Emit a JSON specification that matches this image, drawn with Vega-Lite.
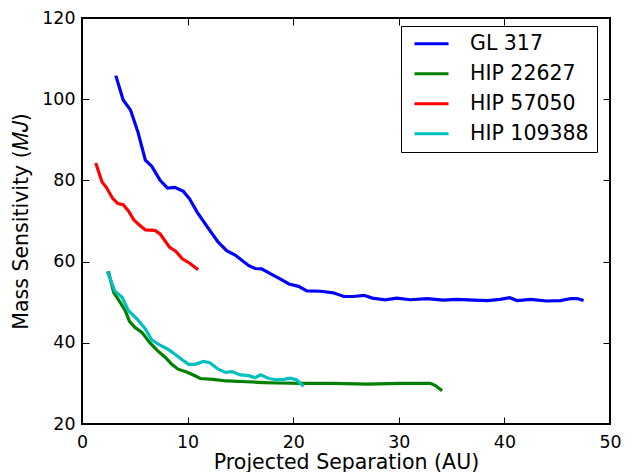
{
  "$schema": "https://vega.github.io/schema/vega-lite/v6.json",
  "width": 528,
  "height": 406,
  "autosize": {"type": "none"},
  "padding": {"left": 82, "top": 18, "right": 24, "bottom": 48},
  "background": "white",
  "config": {
    "font": "DejaVu Sans",
    "view": {"stroke": "black", "strokeWidth": 2},
    "axis": {"grid": false, "domain": false, "tickColor": "black", "tickWidth": 1, "tickSize": -7, "labelFlush": false, "labelOverlap": false,
             "labelFont": "DejaVu Sans", "labelFontSize": 17.4, "labelColor": "black",
             "titleFont": "DejaVu Sans", "titleFontSize": 20.5, "titleFontWeight": "normal", "titleColor": "black"}
  },
  "data": {"values": [
    {"star":"GL 317","x":3.2,"y":105.8},{"star":"GL 317","x":3.9,"y":99.8},{"star":"GL 317","x":4.6,"y":97.3},{"star":"GL 317","x":5.3,"y":91.9},{"star":"GL 317","x":6.0,"y":85},{"star":"GL 317","x":6.6,"y":83.5},{"star":"GL 317","x":7.4,"y":80},{"star":"GL 317","x":8.1,"y":78.1},{"star":"GL 317","x":8.8,"y":78.3},{"star":"GL 317","x":9.6,"y":77.3},{"star":"GL 317","x":10.2,"y":75.4},{"star":"GL 317","x":10.9,"y":72.2},{"star":"GL 317","x":12.1,"y":67.7},{"star":"GL 317","x":12.9,"y":64.8},{"star":"GL 317","x":13.7,"y":62.7},{"star":"GL 317","x":14.5,"y":61.6},{"star":"GL 317","x":15.8,"y":59},{"star":"GL 317","x":16.4,"y":58.3},{"star":"GL 317","x":17.0,"y":58.2},{"star":"GL 317","x":18.0,"y":56.8},{"star":"GL 317","x":18.8,"y":55.7},{"star":"GL 317","x":19.6,"y":54.5},{"star":"GL 317","x":20.5,"y":53.9},{"star":"GL 317","x":21.3,"y":52.8},{"star":"GL 317","x":22.6,"y":52.7},{"star":"GL 317","x":23.8,"y":52.3},{"star":"GL 317","x":24.8,"y":51.4},{"star":"GL 317","x":25.7,"y":51.4},{"star":"GL 317","x":26.7,"y":51.7},{"star":"GL 317","x":27.5,"y":51.0},{"star":"GL 317","x":28.7,"y":50.6},{"star":"GL 317","x":29.8,"y":51.0},{"star":"GL 317","x":31.1,"y":50.6},{"star":"GL 317","x":32.7,"y":50.9},{"star":"GL 317","x":34.2,"y":50.5},{"star":"GL 317","x":35.5,"y":50.7},{"star":"GL 317","x":37.1,"y":50.5},{"star":"GL 317","x":38.4,"y":50.4},{"star":"GL 317","x":39.6,"y":50.7},{"star":"GL 317","x":40.5,"y":51.1},{"star":"GL 317","x":41.2,"y":50.4},{"star":"GL 317","x":42.5,"y":50.7},{"star":"GL 317","x":44.0,"y":50.3},{"star":"GL 317","x":45.3,"y":50.4},{"star":"GL 317","x":46.3,"y":50.9},{"star":"GL 317","x":46.9,"y":50.9},{"star":"GL 317","x":47.5,"y":50.4},
    {"star":"HIP 22627","x":2.5,"y":57.6},{"star":"HIP 22627","x":3.0,"y":52.4},{"star":"HIP 22627","x":3.6,"y":50},{"star":"HIP 22627","x":4.1,"y":47.9},{"star":"HIP 22627","x":4.5,"y":45.3},{"star":"HIP 22627","x":5.0,"y":43.8},{"star":"HIP 22627","x":5.7,"y":42.5},{"star":"HIP 22627","x":6.4,"y":40.1},{"star":"HIP 22627","x":7.1,"y":38.2},{"star":"HIP 22627","x":7.9,"y":36.4},{"star":"HIP 22627","x":8.5,"y":34.7},{"star":"HIP 22627","x":9.1,"y":33.5},{"star":"HIP 22627","x":9.9,"y":32.8},{"star":"HIP 22627","x":10.6,"y":32.0},{"star":"HIP 22627","x":11.2,"y":31.2},{"star":"HIP 22627","x":12.4,"y":31.0},{"star":"HIP 22627","x":13.7,"y":30.6},{"star":"HIP 22627","x":15.6,"y":30.4},{"star":"HIP 22627","x":17.2,"y":30.2},{"star":"HIP 22627","x":18.5,"y":30.1},{"star":"HIP 22627","x":21.0,"y":30.0},{"star":"HIP 22627","x":23.8,"y":30.0},{"star":"HIP 22627","x":27.0,"y":29.8},{"star":"HIP 22627","x":30.1,"y":30.0},{"star":"HIP 22627","x":33.0,"y":30.0},{"star":"HIP 22627","x":33.5,"y":29.4},{"star":"HIP 22627","x":34.1,"y":28.2},
    {"star":"HIP 57050","x":1.3,"y":84.3},{"star":"HIP 57050","x":1.9,"y":79.6},{"star":"HIP 57050","x":2.3,"y":78.3},{"star":"HIP 57050","x":2.9,"y":75.6},{"star":"HIP 57050","x":3.4,"y":74.3},{"star":"HIP 57050","x":3.9,"y":74.0},{"star":"HIP 57050","x":4.4,"y":72.5},{"star":"HIP 57050","x":4.9,"y":70.3},{"star":"HIP 57050","x":5.3,"y":69.3},{"star":"HIP 57050","x":6.0,"y":67.8},{"star":"HIP 57050","x":6.9,"y":67.7},{"star":"HIP 57050","x":7.4,"y":66.8},{"star":"HIP 57050","x":8.3,"y":63.5},{"star":"HIP 57050","x":8.9,"y":62.5},{"star":"HIP 57050","x":9.5,"y":60.7},{"star":"HIP 57050","x":10.2,"y":59.6},{"star":"HIP 57050","x":11.0,"y":58.0},
    {"star":"HIP 109388","x":2.4,"y":57.6},{"star":"HIP 109388","x":3.1,"y":52.8},{"star":"HIP 109388","x":3.8,"y":51.2},{"star":"HIP 109388","x":4.4,"y":47.9},{"star":"HIP 109388","x":5.2,"y":45.9},{"star":"HIP 109388","x":6.0,"y":43.4},{"star":"HIP 109388","x":6.6,"y":40.7},{"star":"HIP 109388","x":7.4,"y":39.4},{"star":"HIP 109388","x":8.2,"y":38.3},{"star":"HIP 109388","x":9.0,"y":36.8},{"star":"HIP 109388","x":9.6,"y":35.6},{"star":"HIP 109388","x":10.1,"y":34.7},{"star":"HIP 109388","x":10.7,"y":34.7},{"star":"HIP 109388","x":11.5,"y":35.4},{"star":"HIP 109388","x":12.1,"y":35.1},{"star":"HIP 109388","x":12.9,"y":33.5},{"star":"HIP 109388","x":13.6,"y":32.7},{"star":"HIP 109388","x":14.2,"y":32.9},{"star":"HIP 109388","x":15.0,"y":32.1},{"star":"HIP 109388","x":15.8,"y":31.9},{"star":"HIP 109388","x":16.4,"y":31.4},{"star":"HIP 109388","x":16.9,"y":32.1},{"star":"HIP 109388","x":17.7,"y":31.2},{"star":"HIP 109388","x":18.4,"y":30.9},{"star":"HIP 109388","x":19.1,"y":31.0},{"star":"HIP 109388","x":19.7,"y":31.3},{"star":"HIP 109388","x":20.3,"y":30.9},{"star":"HIP 109388","x":21.0,"y":29.3}
  ]},
  "layer": [
    {
      "mark": {"type": "line", "strokeWidth": 3.2, "clip": true},
      "encoding": {
        "x": {"field": "x", "type": "quantitative", "scale": {"domain": [0, 50], "nice": false, "zero": false},
              "axis": {"orient": "bottom", "values": [0,10,20,30,40,50], "labelPadding": 16, "title": "Projected Separation (AU)", "titlePadding": 2}},
        "y": {"field": "y", "type": "quantitative", "scale": {"domain": [20, 120], "nice": false, "zero": false},
              "axis": {"orient": "left", "values": [20,40,60,80,100,120], "labelPadding": 14, "title": "Mass Sensitivity (𝑀𝐽)", "titlePadding": 10}},
        "color": {"field": "star", "type": "nominal",
                  "scale": {"domain": ["GL 317","HIP 22627","HIP 57050","HIP 109388"], "range": ["#0000ff","#008000","#ff0000","#00bfbf"]},
                  "legend": {"title": null, "orient": "none", "legendX": 319, "legendY": 8,
                             "symbolType": "stroke", "symbolSize": 1156, "symbolStrokeWidth": 3.2,
                             "labelFont": "DejaVu Sans", "labelFontSize": 20.5, "labelColor": "black",
                             "padding": 7.5, "rowPadding": 9, "symbolOffset": 4, "labelOffset": 19.5, "clipHeight": 20.5,
                             "strokeColor": "black", "fillColor": "white"}}
      }
    },
    {
      "mark": {"type": "line", "strokeOpacity": 0},
      "encoding": {
        "x": {"field": "x", "type": "quantitative", "axis": {"orient": "top", "values": [0,10,20,30,40,50], "labels": false, "title": null}},
        "y": {"field": "y", "type": "quantitative", "axis": {"orient": "right", "values": [20,40,60,80,100,120], "labels": false, "title": null}},
        "detail": {"field": "star"}
      }
    }
  ],
  "resolve": {"axis": {"x": "independent", "y": "independent"}}
}
